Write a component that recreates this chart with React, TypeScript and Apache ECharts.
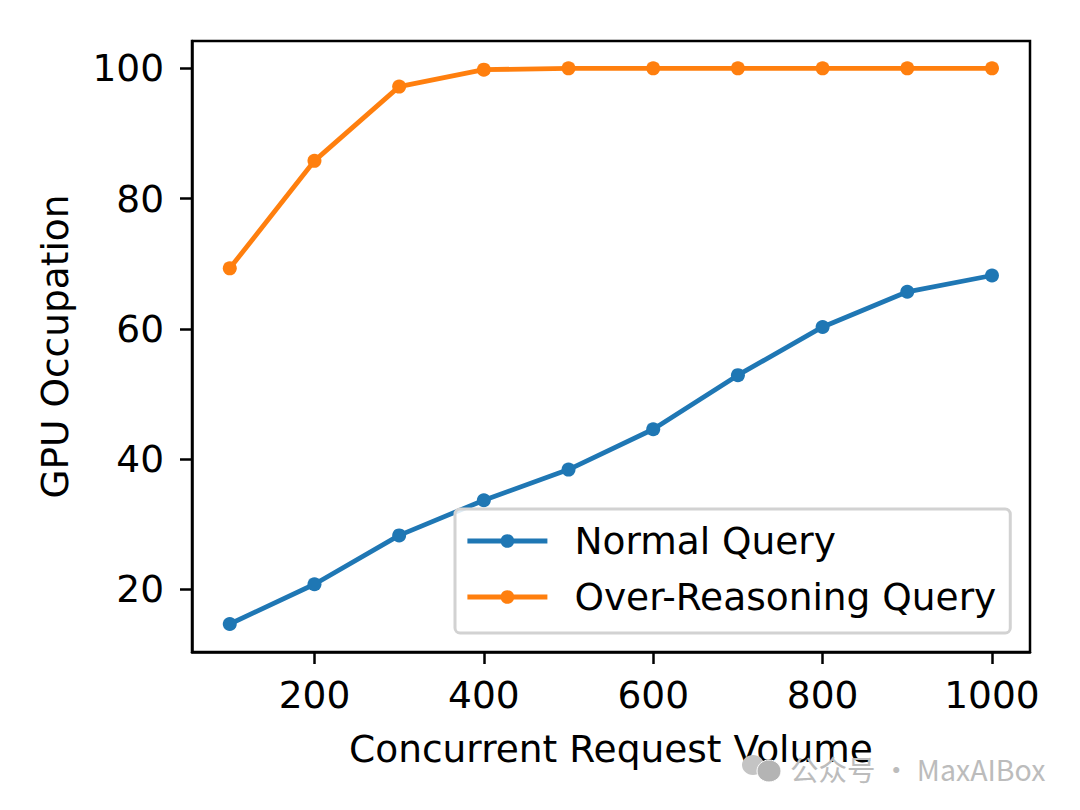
import React, { useEffect, useRef } from "react";
import * as echarts from "echarts";

const volumes = [100, 200, 300, 400, 500, 600, 700, 800, 900, 1000];
const normalQuery = [14.7, 20.8, 28.3, 33.7, 38.4, 44.6, 52.9, 60.3, 65.7, 68.2];
const overReasoningQuery = [69.3, 85.8, 97.2, 99.8, 100, 100, 100, 100, 100, 100];
const xTicks = [200, 400, 600, 800, 1000];
const yTicks = [20, 40, 60, 80, 100];
const FONT = "DejaVu Sans";
const FS = 37.5;

export default function App() {
  const ref = useRef<HTMLDivElement>(null);
  useEffect(() => {
    const chart = echarts.init(ref.current!, null, { renderer: "svg" });
    const axisCommon = {
      type: "value" as const,
      nameLocation: "middle" as const,
      nameTextStyle: { fontFamily: FONT, fontSize: FS, color: "#000" },
      splitLine: { show: false },
      axisLine: { show: true, lineStyle: { color: "#000", width: 2.5 } },
    };
    chart.setOption({
      animation: false,
      backgroundColor: "#fff",
      grid: { left: 192, top: 41, width: 838, height: 611, show: true, borderColor: "#000", borderWidth: 2.5, backgroundColor: "transparent" },
      xAxis: {
        ...axisCommon,
        name: "Concurrent Request Volume",
        nameGap: 78,
        min: 55.4,
        max: 1044.9,
        axisTick: { show: true, length: 12, customValues: xTicks, lineStyle: { color: "#000", width: 2.5 } },
        axisLabel: { show: true, customValues: xTicks, margin: 24, fontFamily: FONT, fontSize: FS, color: "#000", hideOverlap: false, showMinLabel: true, showMaxLabel: true, formatter: (v: number) => String(v) },
      },
      yAxis: {
        ...axisCommon,
        name: "GPU Occupation",
        nameGap: 118,
        min: 10.4,
        max: 104.2,
        axisTick: { show: true, length: 12, customValues: yTicks, lineStyle: { color: "#000", width: 2.5 } },
        axisLabel: { show: true, customValues: yTicks, margin: 28, fontFamily: FONT, fontSize: FS, color: "#000", hideOverlap: false, showMinLabel: true, showMaxLabel: true },
      },
      legend: {
        show: true,
        left: 455,
        top: 509,
        orient: "vertical",
        padding: [13, 14, 17, 10],
        itemGap: 18,
        itemWidth: 80,
        itemHeight: 17,
        backgroundColor: "rgba(255,255,255,0.85)",
        borderColor: "#d2d2d2",
        borderWidth: 3,
        borderRadius: 5,
        lineStyle: { width: 4.8 },
        textStyle: { fontFamily: FONT, fontSize: FS, color: "#000", padding: [0, 0, 0, 22] },
        data: ["Normal Query", "Over-Reasoning Query"],
      },
      series: [
        {
          name: "Normal Query", type: "line", data: volumes.map((v, i) => [v, normalQuery[i]]),
          symbol: "circle", symbolSize: 14, color: "#1f77b4", lineStyle: { width: 4.8, color: "#1f77b4" },
          itemStyle: { color: "#1f77b4" }, clip: false,
        },
        {
          name: "Over-Reasoning Query", type: "line", data: volumes.map((v, i) => [v, overReasoningQuery[i]]),
          symbol: "circle", symbolSize: 14, color: "#ff7f0e", lineStyle: { width: 4.8, color: "#ff7f0e" },
          itemStyle: { color: "#ff7f0e" }, clip: false,
        },
      ],
      graphic: [
        { type: "ellipse", shape: { cx: 753, cy: 765, rx: 11, ry: 10 }, style: { fill: "#c4c4c4" }, z: 100 },
        { type: "ellipse", shape: { cx: 769, cy: 771, rx: 12, ry: 11 }, style: { fill: "#b4b4b4", stroke: "#fff", lineWidth: 1 }, z: 101 },
        { type: "text", x: 790, y: 768, z: 100, style: { text: "公众号 · MaxAIBox", fill: "#bcbcbc", fontSize: 28.5, fontFamily: "Noto Sans CJK SC", verticalAlign: "middle", textAlign: "left" } },
      ],
    });
    return () => chart.dispose();
  }, []);
  return <div ref={ref} style={{ position: "absolute", left: 0, top: 0, width: 1080, height: 810 }} />;
}
